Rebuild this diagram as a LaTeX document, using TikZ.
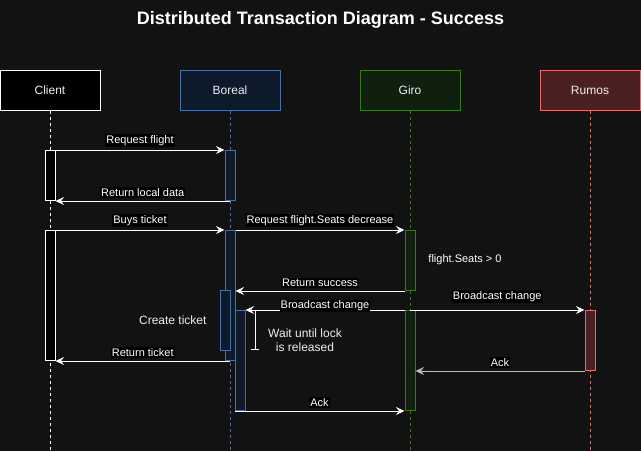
\documentclass[tikz,border=0pt]{standalone}
\usepackage{fontspec}
\setmainfont{Liberation Sans}
\usetikzlibrary{arrows.meta,positioning}
\definecolor{bgdark}{HTML}{121212}
\definecolor{borealfill}{HTML}{0D1A2C}
\definecolor{borealline}{HTML}{4A6FA5}
\definecolor{girofill}{HTML}{0F200F}
\definecolor{giroline}{HTML}{3A7A1E}
\definecolor{rumosfill}{HTML}{4A2020}
\definecolor{rumosline}{HTML}{EA6B66}
\definecolor{headtext}{HTML}{EEEEEE}
\definecolor{ackgray}{HTML}{BBBBBB}
\begin{document}
\begin{tikzpicture}[x=1pt, y=-1pt,
  head/.style={draw, line width=1pt, minimum width=100pt, minimum height=40pt, text=headtext, font=\fontsize{12}{14}\selectfont},
  life/.style={line width=1pt, dash pattern=on 3pt off 3pt},
  act/.style={draw, line width=1pt, minimum width=10pt, inner sep=0pt, anchor=north},
  msg/.style={draw=white, line width=1pt, -{Stealth[length=8.5pt,width=8pt,inset=3pt]}},
  lbl/.style={fill=black, text=white, inner sep=1pt, above=3pt, font=\fontsize{11}{12}\selectfont},
  note/.style={text=headtext, font=\fontsize{12}{14.5}\selectfont, align=center}]
\fill[bgdark] (0,0) rectangle (641,451);
\useasboundingbox (0,0) rectangle (641,451);
\node[font=\bfseries\fontsize{18}{22}\selectfont, text=white] (title) at (320.5,20) {Distributed Transaction Diagram - Success};
% participants
\node[head, fill=black, draw=white] (client) at (50,90) {Client};
\node[head, fill=borealfill, draw=borealline] (boreal) at (230,90) {Boreal};
\node[head, fill=girofill, draw=giroline] (giro) at (410,90) {Giro};
\node[head, fill=rumosfill, draw=rumosline] (rumos) at (590,90) {Rumos};
\coordinate (clientEnd) at (50,451);
\coordinate (borealEnd) at (230,451);
\coordinate (giroEnd) at (410,451);
\coordinate (rumosEnd) at (590,451);
\draw[life, white] (client) -- (clientEnd);
\draw[life, borealline] (boreal) -- (borealEnd);
\draw[life, giroline] (giro) -- (giroEnd);
\draw[life, rumosline] (rumos) -- (rumosEnd);
% activations
\node[act, fill=black, draw=white, minimum height=50pt] (cli1) at (50,150) {};
\node[act, fill=black, draw=white, minimum height=130pt] (cli2) at (50,230) {};
\node[act, fill=borealfill, draw=borealline, minimum height=50pt] (bor1) at (230,150) {};
\node[act, fill=borealfill, draw=borealline, minimum height=130pt] (bor2) at (230,230) {};
\node[act, fill=borealfill, draw=borealline, minimum height=60pt] (bor3) at (225,290) {};
\node[act, fill=borealfill, draw=borealline, minimum height=100pt] (bor4) at (240,310) {};
\node[act, fill=girofill, draw=giroline, minimum height=60pt] (giro1) at (410,230) {};
\node[act, fill=girofill, draw=giroline, minimum height=100pt] (giro2) at (410,310) {};
\node[act, fill=rumosfill, draw=rumosline, minimum height=60pt] (rum1) at (590,310) {};
% messages
\draw[msg] (cli1.north east) -- node[lbl] {Request flight} (bor1.north west);
\draw[msg] (bor1.south) -- node[lbl] {Return local data} (cli1.south east);
\draw[msg] (cli2.north east) -- node[lbl] {Buys ticket} (bor2.north west);
\draw[msg] (bor2.north east) -- node[lbl] {Request flight.Seats decrease} (giro1.north west);
\draw[msg] (giro1.south west) -- node[lbl] {Return success} (bor2.east |- giro1.south);
\draw[msg] (giro2.north west) -- node[lbl, above=-2.5pt] {Broadcast change} (bor4.north east);
\draw[msg] (giro2.north) -- node[lbl, above=7pt] {Broadcast change} (rum1.north west);
\draw[msg, draw=ackgray] (rum1.south west) -- node[lbl] {Ack} (giro2.east |- rum1.south);
\draw[msg] (bor2.south) -- node[lbl] {Return ticket} (cli2.south east);
\draw[msg] (bor4.south west) -- node[lbl] {Ack} (giro2.south west);
% notes
\coordinate (waitTop) at (255,310);
\coordinate (waitBot) at (255,349);
\draw[white, line width=1pt] (waitTop) -- (waitBot);
\draw[white, line width=1pt] ([xshift=-4pt]waitBot) -- ([xshift=4pt]waitBot);
\node[note] (wait) at (305,340) {Wait until lock\\is released};
\node[note, anchor=east] (create) at (210,320) {Create ticket};
\node[text=white, font=\fontsize{11}{13}\selectfont] (seats) at (465,260) {flight.Seats > 0};
\end{tikzpicture}
\end{document}
